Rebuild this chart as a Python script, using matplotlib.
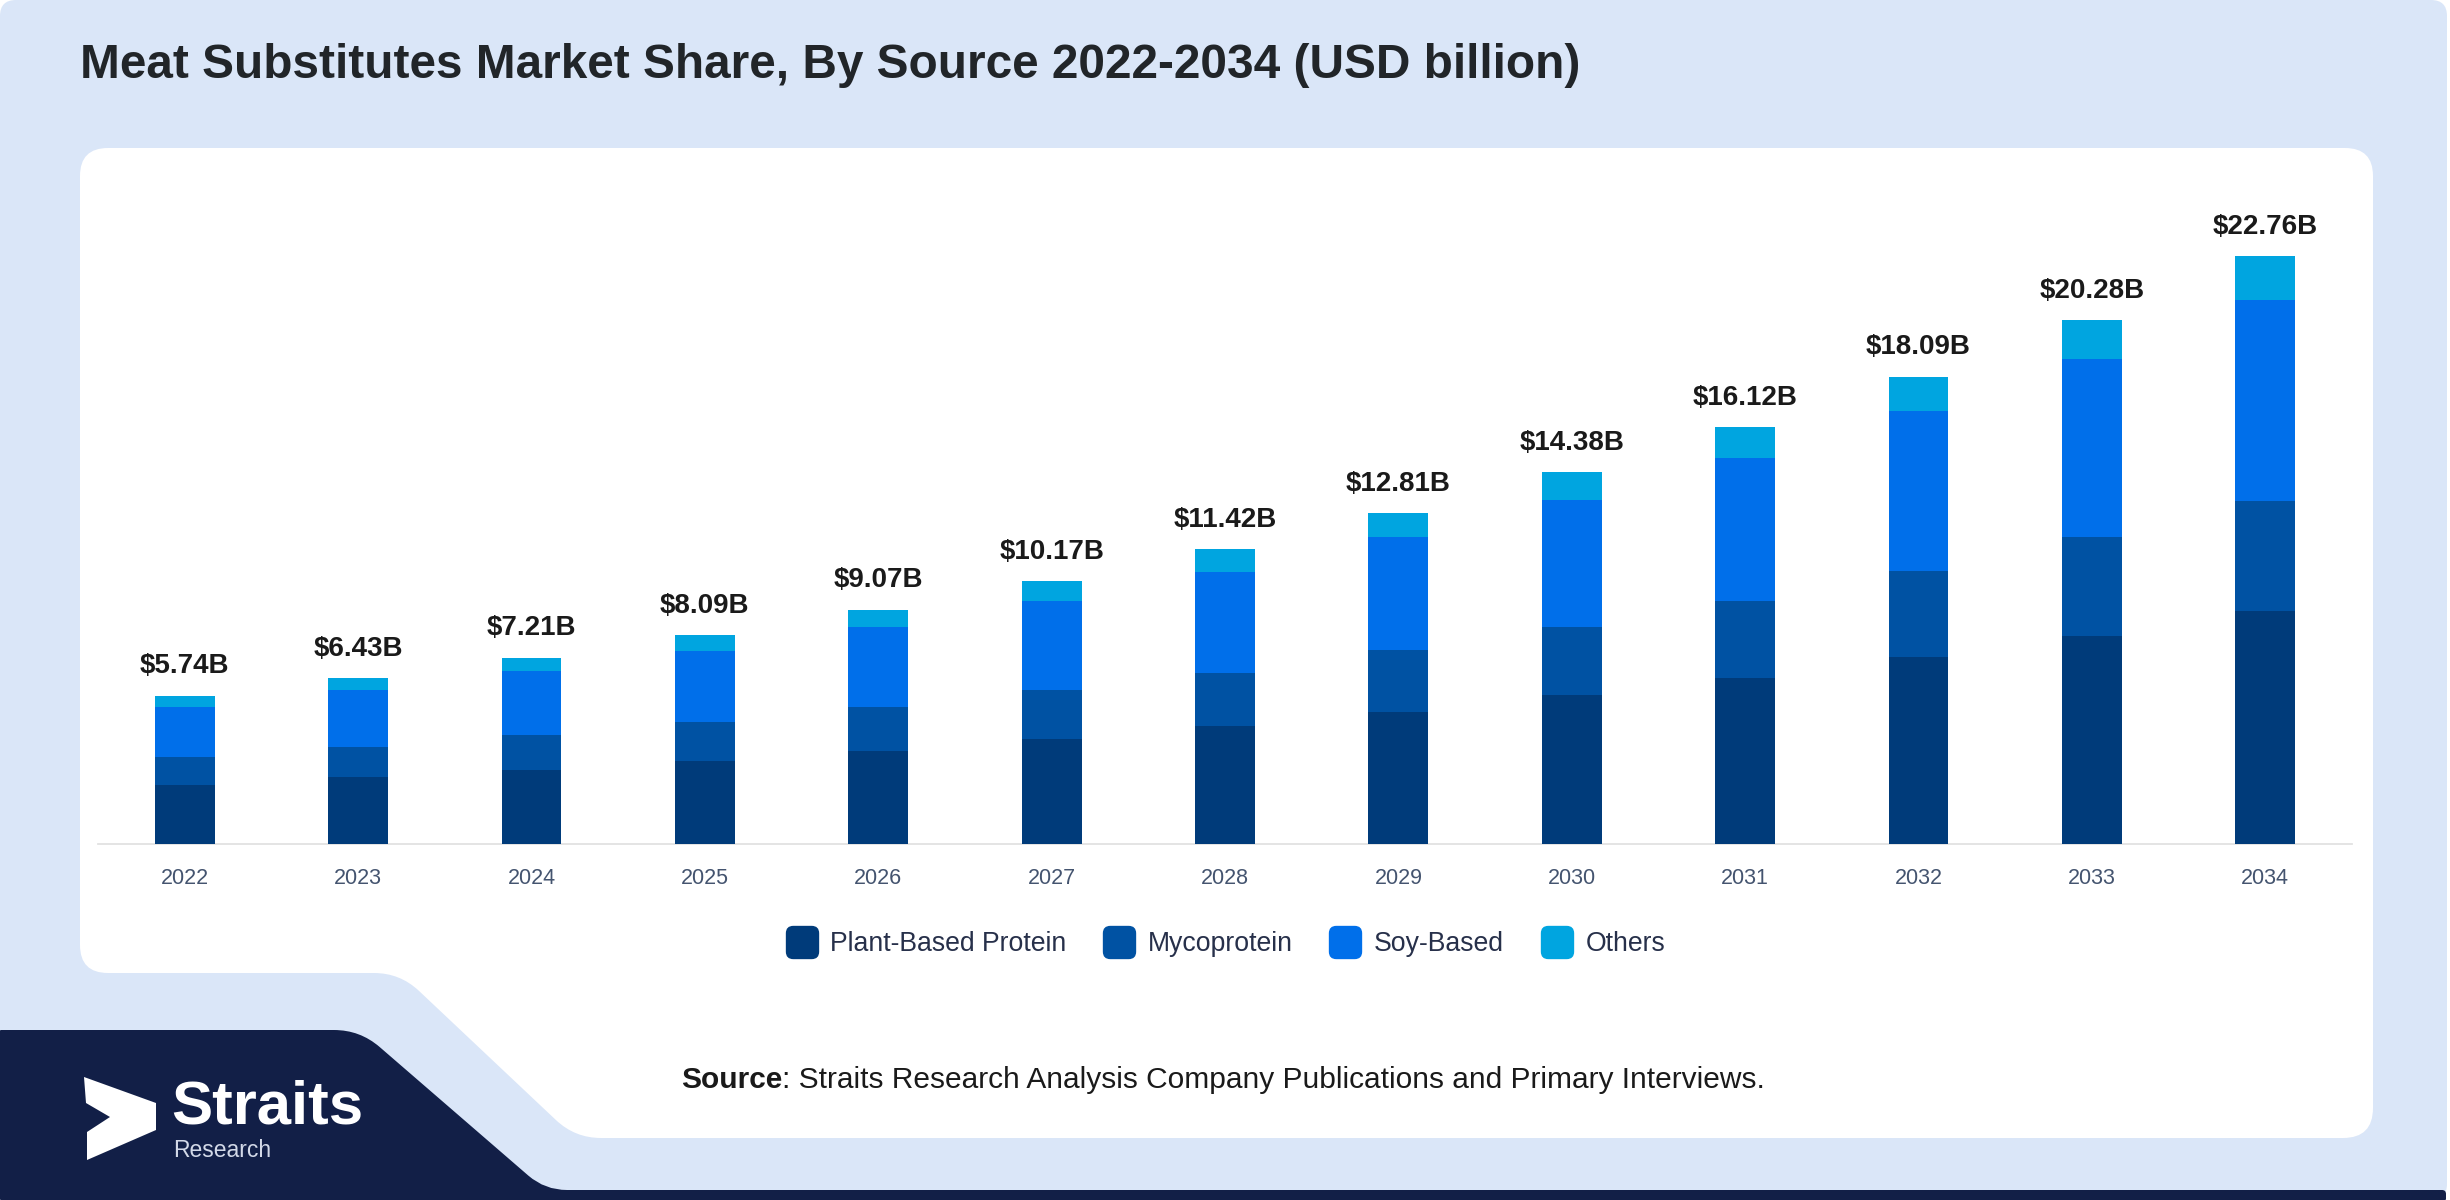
import matplotlib
matplotlib.use("Agg")
import matplotlib.pyplot as plt
import numpy as np
from matplotlib.lines import Line2D
from matplotlib.patches import PathPatch
from matplotlib.path import Path

plt.rcParams["font.family"] = ["Liberation Sans", "DejaVu Sans"]

# values (USD billion)
years = ["2022", "2023", "2024", "2025", "2026", "2027", "2028",
         "2029", "2030", "2031", "2032", "2033", "2034"]
plant_based = [2.30, 2.58, 2.88, 3.23, 3.61, 4.07, 4.57, 5.11, 5.76, 6.44, 7.23, 8.06, 9.03]
mycoprotein = [1.08, 1.19, 1.32, 1.48, 1.68, 1.90, 2.06, 2.38, 2.65, 2.98, 3.34, 3.81, 4.24]
soy_based = [1.94, 2.19, 2.48, 2.75, 3.10, 3.44, 3.89, 4.40, 4.92, 5.50, 6.20, 6.90, 7.79]
others = [0.42, 0.47, 0.53, 0.63, 0.68, 0.76, 0.90, 0.92, 1.05, 1.20, 1.32, 1.51, 1.70]
totals = [5.74, 6.43, 7.21, 8.09, 9.07, 10.17, 11.42, 12.81, 14.38, 16.12, 18.09, 20.28, 22.76]

series_names = ["Plant-Based Protein", "Mycoprotein", "Soy-Based", "Others"]
series_values = [plant_based, mycoprotein, soy_based, others]
series_colors = ["#003b7a", "#0052a3", "#006fea", "#00a5e0"]

title = "Meat Substitutes Market Share, By Source 2022-2034 (USD billion)"
source_rest = ": Straits Research Analysis Company Publications and Primary Interviews."

W, H = 2450, 1200
LIGHT = "#dae6f8"
NAVY = "#121f47"


def rounded_path(points, radius):
    """Closed polygon with rounded corners (quadratic curves)."""
    verts, codes = [], []
    n = len(points)
    for i in range(n):
        prev = np.asarray(points[i - 1], float)
        cur = np.asarray(points[i], float)
        nxt = np.asarray(points[(i + 1) % n], float)
        r = radius[i] if np.ndim(radius) else radius
        d_in = prev - cur
        d_out = nxt - cur
        l_in, l_out = np.linalg.norm(d_in), np.linalg.norm(d_out)
        a = cur + d_in / l_in * min(r, l_in / 2)
        b = cur + d_out / l_out * min(r, l_out / 2)
        verts += [a, cur, b]
        codes += [Path.MOVETO if i == 0 else Path.LINETO, Path.CURVE3, Path.CURVE3]
    verts.append(verts[0])
    codes.append(Path.CLOSEPOLY)
    return Path(verts, codes)


fig = plt.figure(figsize=(W / 100, H / 100), dpi=100, facecolor="white")

# background canvas in pixel coordinates (y down)
bg = fig.add_axes([0, 0, 1, 1], zorder=-10)
bg.set_xlim(0, W)
bg.set_ylim(H, 0)
bg.axis("off")

bg.add_patch(PathPatch(rounded_path([(0, 0), (2447, 0), (2447, 1200), (0, 1200)], 16),
                       facecolor=LIGHT, edgecolor="none"))
bg.add_patch(PathPatch(rounded_path([(80, 148), (2373, 148), (2373, 1138), (575, 1138),
                                     (400, 973), (80, 973)], [28, 28, 30, 26, 26, 28]),
                       facecolor="white", edgecolor="none"))
bg.add_patch(PathPatch(rounded_path([(0, 1030), (360, 1030), (545, 1190), (2446, 1190),
                                     (2446, 1200), (0, 1200)], [1, 26, 22, 4, 1, 1]),
                       facecolor=NAVY, edgecolor="none"))

# logo
bg.add_patch(plt.Polygon([(84, 1077), (156, 1103), (156, 1130), (87, 1160),
                          (87, 1132), (110, 1117), (86, 1103)],
                         closed=True, facecolor="white", edgecolor="none"))
bg.text(171, 1123, "Straits", color="white", fontsize=44.5, fontweight="bold",
        va="baseline", ha="left")
bg.text(173, 1157, "Research", color="#d3d9e8", fontsize=16.5, va="baseline", ha="left")

bg.text(80, 78, title, fontsize=34.4, fontweight="bold", color="#212529",
        va="baseline", ha="left")

src = bg.text(681, 1088, "Source", fontsize=21.5, fontweight="bold", color="#1a1a1a",
              va="baseline", ha="left")
bg.annotate(source_rest, xy=(1, 0), xycoords=src, fontsize=21.5, color="#1a1a1a",
            va="bottom", ha="left")

# chart
ax = fig.add_axes([98 / W, (H - 844) / H, (2352 - 98) / W, 646 / H])
ax.set_facecolor("none")
x = np.arange(len(years))
bottom = np.zeros(len(years))
for name, vals, color in zip(series_names, series_values, series_colors):
    ax.bar(x, vals, width=0.345, bottom=bottom, color=color, label=name, zorder=3)
    bottom += np.asarray(vals)

for i, t in enumerate(totals):
    ax.annotate(f"${t:.2f}B", (x[i], bottom[i]), xytext=(0, 16), textcoords="offset points",
                ha="center", va="baseline", fontsize=20, fontweight="bold", color="#1a1a1a")

ax.set_xlim(-0.5, len(years) - 0.5)
ax.set_ylim(0, 25)
ax.set_xticks(x)
ax.set_xticklabels(years)
ax.tick_params(axis="x", length=0, pad=17.5, labelsize=15.5, labelcolor="#44546f")
ax.set_yticks([])
for side in ["left", "right", "top"]:
    ax.spines[side].set_visible(False)
ax.spines["bottom"].set_color("#e2e2e2")
ax.spines["bottom"].set_linewidth(1.3)

marker = rounded_path([(-1, -1), (1, -1), (1, 1), (-1, 1)], 0.45)
handles = [Line2D([], [], linestyle="none", marker=marker, markersize=24,
                  markerfacecolor=c, markeredgewidth=0) for c in series_colors]
fig.legend(handles, series_names, loc="center", bbox_to_anchor=(0.5, (H - 944) / H),
           ncol=4, frameon=False, fontsize=19.2, labelcolor="#27304a",
           handlelength=1.25, handletextpad=0.45, columnspacing=1.35)

fig.savefig("out.png", dpi=100, facecolor=fig.get_facecolor())
